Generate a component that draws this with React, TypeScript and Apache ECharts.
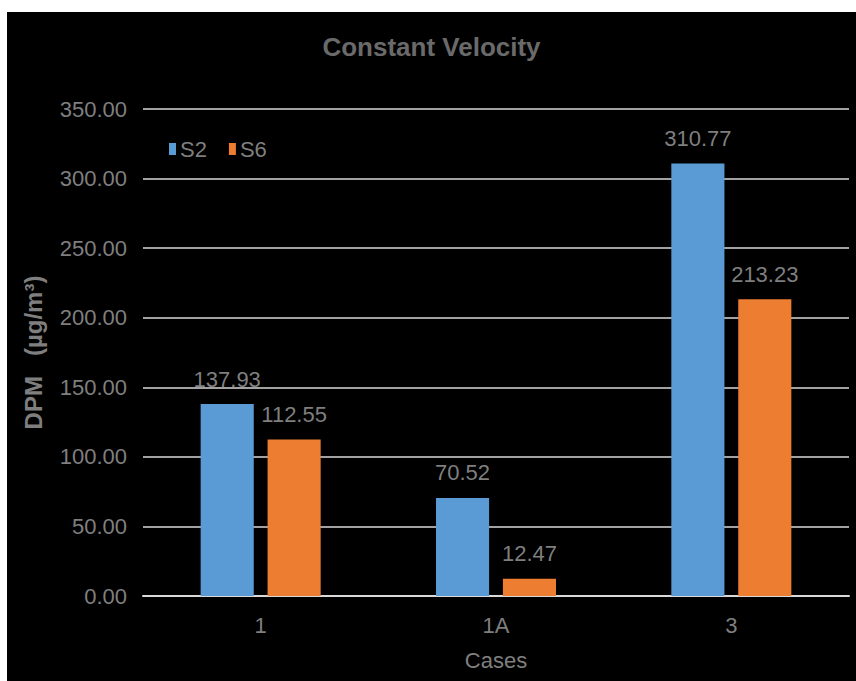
import React, { useEffect, useRef } from "react";
import * as echarts from "echarts";

const categories = ["1", "1A", "3"];
const seriesNames = ["S2", "S6"];
const s2Values = [137.93, 70.52, 310.77];
const s6Values = [112.55, 12.47, 213.23];
const colors = ["#5B9BD5", "#ED7D31"];

const FONT = "'Liberation Sans Narrow', 'Liberation Sans', Arial, sans-serif";
const GRAY = "#7f7f7f";

export default function App() {
  const ref = useRef<HTMLDivElement>(null);
  useEffect(() => {
    document.body.style.margin = "0";
    const chart = echarts.init(ref.current!, undefined, { renderer: "svg" });
    const labelStyle = {
      show: true,
      position: "top" as const,
      distance: 14,
      color: GRAY,
      fontSize: 22,
      fontFamily: FONT,
      formatter: (p: any) => Number(p.value).toFixed(2),
    };
    chart.setOption({
      animation: false,
      backgroundColor: "#000000",
      title: {
        text: "Constant Velocity",
        left: "center",
        top: 17,
        textStyle: { color: "#6a6a6a", fontSize: 26, fontWeight: "bold", fontFamily: FONT },
      },
      legend: {
        data: seriesNames,
        left: 157,
        top: 121,
        itemWidth: 7,
        itemHeight: 12,
        itemGap: 22,
        icon: "rect",
        textStyle: { color: GRAY, fontSize: 22, fontFamily: FONT, padding: [0, 0, 0, -1] },
      },
      grid: { left: 136, right: 7, top: 97, bottom: 85 },
      xAxis: {
        type: "category",
        data: categories,
        name: "Cases",
        nameLocation: "middle",
        nameGap: 53,
        nameTextStyle: { color: GRAY, fontSize: 22, fontFamily: FONT },
        axisLine: { lineStyle: { color: "#d9d9d9", width: 2 } },
        axisTick: { show: false },
        axisLabel: { color: GRAY, fontSize: 22, fontFamily: FONT, margin: 18 },
      },
      yAxis: {
        type: "value",
        min: 0,
        max: 350,
        interval: 50,
        name: "DPM   (µg/m³)",
        nameLocation: "middle",
        nameGap: 98,
        nameRotate: 90,
        nameTextStyle: { color: GRAY, fontSize: 24, fontWeight: "bold", fontFamily: FONT },
        axisLine: { show: false },
        axisTick: { show: false },
        splitLine: { lineStyle: { color: "#d9d9d9", width: 1.5 } },
        axisLabel: {
          color: GRAY,
          fontSize: 22,
          fontFamily: FONT,
          margin: 16,
          formatter: (v: number) => v.toFixed(2),
        },
      },
      series: [
        {
          name: seriesNames[0],
          type: "bar",
          data: s2Values,
          itemStyle: { color: colors[0] },
          barGap: "26%",
          barCategoryGap: "49%",
          label: labelStyle,
        },
        {
          name: seriesNames[1],
          type: "bar",
          data: s6Values,
          itemStyle: { color: colors[1] },
          barGap: "26%",
          barCategoryGap: "49%",
          label: labelStyle,
        },
      ],
    });
    return () => chart.dispose();
  }, []);
  return (
    <div style={{ position: "relative", width: 856, height: 681, background: "#ffffff" }}>
      <div
        ref={ref}
        style={{ position: "absolute", left: 7, top: 12, width: 849, height: 669 }}
      />
    </div>
  );
}
